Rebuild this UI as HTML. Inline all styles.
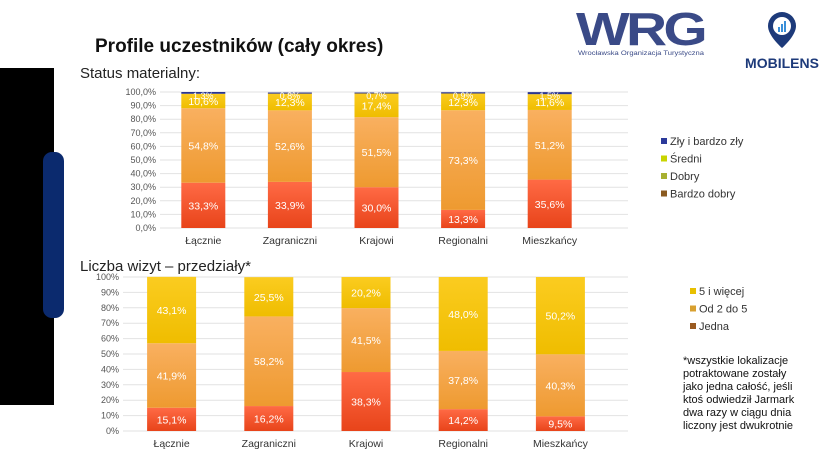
<!DOCTYPE html>
<html><head><meta charset="utf-8">
<style>
body{margin:0;width:840px;height:472px;background:#fff;overflow:hidden;font-family:"Liberation Sans",sans-serif;}
svg{position:absolute;left:0;top:0}
</style></head><body>
<svg id="s" width="840" height="472">
<defs>
<linearGradient id="gRed" x1="0" y1="0" x2="0" y2="1"><stop offset="0" stop-color="#ff6a45"/><stop offset="1" stop-color="#e8441a"/></linearGradient>
<linearGradient id="gOr" x1="0" y1="0" x2="0" y2="1"><stop offset="0" stop-color="#f9b060"/><stop offset="1" stop-color="#ee9a30"/></linearGradient>
<linearGradient id="gYe" x1="0" y1="0" x2="0" y2="1"><stop offset="0" stop-color="#fbcc20"/><stop offset="1" stop-color="#efbd00"/></linearGradient>
</defs>
<rect x="0" y="68" width="54" height="337" fill="#000"/>
<rect x="43" y="152" width="21" height="166" rx="9" fill="#0b2a6e"/>
<text x="95" y="52" font-size="19" font-weight="bold" fill="#111">Profile uczestników (cały okres)</text>
<text x="80" y="78" font-size="15" fill="#222">Status materialny:</text>
<text x="80" y="271" font-size="15" fill="#222">Liczba wizyt – przedziały*</text>
<g>
<text x="576" y="45" font-size="46" font-weight="bold" fill="#3a4a87" letter-spacing="-3" textLength="128" lengthAdjust="spacingAndGlyphs">WRG</text>
<text x="578" y="55" font-size="6.5" fill="#3a4a87" textLength="126" lengthAdjust="spacingAndGlyphs">Wrocławska Organizacja Turystyczna</text>
</g>
<g>
<path d="M782 12a14 14 0 0 1 14 14c0 10-14 22-14 22s-14-12-14-22a14 14 0 0 1 14-14z" fill="#1d3a7a"/>
<circle cx="782" cy="26" r="9" fill="#fff"/>
<rect x="778" y="27" width="2" height="5" fill="#3a8fd8"/><rect x="781" y="24" width="2" height="8" fill="#3a8fd8"/><rect x="784" y="21" width="2" height="11" fill="#3a8fd8"/>
<text x="782" y="68" font-size="14" font-weight="bold" fill="#1d3a7a" text-anchor="middle">MOBILENS</text>
</g>
<g id="c1"></g>
<g id="c2"></g>
<g font-size="11" fill="#111">
<text x="683" y="364">*wszystkie lokalizacje</text>
<text x="683" y="377">potraktowane zostały</text>
<text x="683" y="390">jako jedna całość, jeśli</text>
<text x="683" y="403">ktoś odwiedził Jarmark</text>
<text x="683" y="416">dwa razy w ciągu dnia</text>
<text x="683" y="429">liczony jest dwukrotnie</text>
</g>
</svg>
<script>
const categories=["Łącznie","Zagraniczni","Krajowi","Regionalni","Mieszkańcy"];
const bardzoDobry=[33.3,33.9,30.0,13.3,35.6];
const dobry=[54.8,52.6,51.5,73.3,51.2];
const sredni=[10.6,12.3,17.4,12.3,11.6];
const zly=[1.3,0.8,0.7,0.9,1.5];
const ticks1=["0,0%","10,0%","20,0%","30,0%","40,0%","50,0%","60,0%","70,0%","80,0%","90,0%","100,0%"];
const jedna=[15.1,16.2,38.3,14.2,9.5];
const od2do5=[41.9,58.2,41.5,37.8,40.3];
const piecIWiecej=[43.1,25.5,20.2,48.0,50.2];
const ticks2=["0%","10%","20%","30%","40%","50%","60%","70%","80%","90%","100%"];
const NS="http://www.w3.org/2000/svg";
function mk(p,t,a){const e=document.createElementNS(NS,t);for(const k in a)e.setAttribute(k,a[k]);p.appendChild(e);return e;}
function fmt(v){return v.toFixed(1).replace('.',',')+'%';}
function chart(g,o){
 const y=v=>o.y0-(v/100)*(o.y0-o.y1);
 const x=i=>o.x0+o.step*(i+0.5);
 o.ticks.forEach((t,i)=>{const v=i*10;
  const l=mk(g,'line',{x1:o.gx0,x2:o.gx1,y1:y(v),y2:y(v),stroke:'#e2e2e2','stroke-width':1});
  
  
  const tx=mk(g,'text',{x:o.gx0-4,y:y(v)+3,'font-size':9,fill:'#555','text-anchor':'end'});tx.textContent=t;
  
  
 });
 categories.forEach((c,i)=>{
  let acc=0;
  o.series.forEach((s,si)=>{const v=s.data[i];
   const r=mk(g,'rect',{x:x(i)-o.bw/2,y:y(acc+v),width:o.bw,height:y(acc)-y(acc+v),fill:s.fill});
   
   
   const ly=s.top?y(100)+7:(y(acc)+y(acc+v))/2+4;
   if(s.label!==false){const t=mk(g,'text',{x:x(i),y:ly,'font-size':s.top?9:10.5,fill:'#fff','text-anchor':'middle'});t.textContent=fmt(v);
    
    }
   acc+=v;});
  const t=mk(g,'text',{x:x(i),y:o.y0+16,'font-size':10.5,fill:'#333','text-anchor':'middle'});t.textContent=c;
  
  
 });
 o.legend.forEach((L,i)=>{
  const r=mk(g,'rect',{x:o.lx,y:o.ly+i*o.lstep-6,width:6,height:6,fill:L[1]});
  
  
  const t=mk(g,'text',{x:o.lx+9,y:o.ly+i*o.lstep+1,'font-size':11,fill:'#333'});t.textContent=L[0];
  
  
 });
}
chart(document.getElementById('c1'),{y0:228,y1:92,x0:160,step:86.6,bw:44,gx0:160,gx1:628,ticks:ticks1,
 series:[{key:'bardzo-dobry',data:bardzoDobry,fill:'url(#gRed)'},{key:'dobry',data:dobry,fill:'url(#gOr)'},{key:'sredni',data:sredni,fill:'url(#gYe)'},{key:'zly',data:zly,fill:'#2a3590',top:true}],
 legend:[["Zły i bardzo zły","#2b3a9a"],["Średni","#c8d400"],["Dobry","#a8b030"],["Bardzo dobry","#8a5a20"]],lx:661,ly:144,lstep:17.5});
chart(document.getElementById('c2'),{y0:431,y1:277,x0:123,step:97.2,bw:49,gx0:123,gx1:628,ticks:ticks2,
 series:[{key:'jedna',data:jedna,fill:'url(#gRed)'},{key:'od-2-do-5',data:od2do5,fill:'url(#gOr)'},{key:'5-i-wiecej',data:piecIWiecej,fill:'url(#gYe)'}],
 legend:[["5 i więcej","#e8c000"],["Od 2 do 5","#d8a030"],["Jedna","#9a5a20"]],lx:690,ly:294,lstep:17.5});
</script>
</body></html>
